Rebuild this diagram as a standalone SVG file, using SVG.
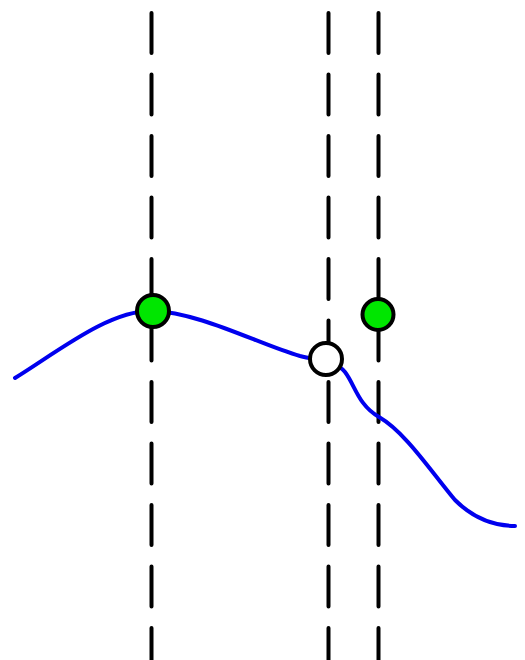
<svg xmlns="http://www.w3.org/2000/svg" width="525" height="660" viewBox="0 0 525 660">
<style>
.guide{stroke:#000;stroke-width:4;stroke-dasharray:40 21.5;stroke-linecap:round;fill:none}
.curve{stroke:#0000ee;stroke-width:4;fill:none;stroke-linecap:round}
.pt{stroke:#000;stroke-width:4}
</style>
<rect width="525" height="660" fill="#fff"/>
<g id="connectors">
<line class="guide" x1="151.5" y1="13" x2="151.5" y2="660"/>
<line class="guide" x1="328.5" y1="13" x2="328.5" y2="660"/>
<line class="guide" x1="378.5" y1="13" x2="378.5" y2="660"/>
<path class="curve" d="M15,378 C60,350 110,310 152,311 C200,312 260,345 300,356 C320,361 335,360 345,372 C355,385 358,405 379,417 C405,432 430,470 455,500 C475,520 495,526 515,526"/>
</g>
<g id="node-peak"><circle class="pt" cx="153" cy="311" r="16" fill="#00e600"/></g>
<g id="node-open"><circle class="pt" cx="326" cy="359" r="16" fill="#fff"/></g>
<g id="node-right"><circle class="pt" cx="378" cy="314.5" r="15.5" fill="#00e600"/></g>
</svg>
